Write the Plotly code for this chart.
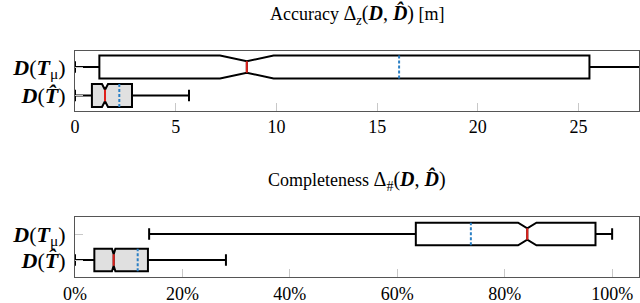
import plotly.graph_objects as go

# ---- data ----
row_labels = ["<b><i>D</i></b>(<b><i>T̂</i></b>)", "<b><i>D</i></b>(<b><i>T</i></b><sub>μ</sub>)"]
row_pos = [0, 1]

# Accuracy (m): order = [D(T^), D(T_mu)]
acc_lower = [0.0, 0.0]
acc_q1 = [0.84, 1.21]
acc_median = [1.49, 8.53]
acc_notch = [0.15, 1.33]
acc_mean = [2.20, 16.09]
acc_q3 = [2.83, 25.54]
acc_upper = [5.66, 29.5]

# Completeness (%)
com_lower = [0.0, 13.8]
com_q1 = [3.6, 63.45]
com_median = [7.2, 84.2]
com_notch = [0.32, 1.71]
com_mean = [11.67, 73.7]
com_q3 = [13.58, 96.9]
com_upper = [28.1, 100.0]

acc_ticks = [0, 5, 10, 15, 20, 25]
com_ticks = [0, 20, 40, 60, 80, 100]
com_ticktext = ["0%", "20%", "40%", "60%", "80%", "100%"]

fills = ["#e0e0e0", "#ffffff"]

SERIF = "Liberation Serif"
fig = go.Figure()


def add_panel(xa, ya, lower, q1, med, notch, mean, q3, upper, bw):
    for i in range(2):
        fig.add_trace(go.Box(
            y=[row_pos[i]], q1=[q1[i]], median=[med[i]], q3=[q3[i]],
            lowerfence=[lower[i]], upperfence=[upper[i]], notchspan=[notch[i]],
            notched=True, notchwidth=0.25, orientation="h", width=bw,
            fillcolor=fills[i], line=dict(color="black", width=2),
            whiskerwidth=0.5, boxpoints=False, showlegend=False,
            xaxis=xa, yaxis=ya, hoverinfo="skip"))
        # median (red), spans notched width
        h = bw / 2 * 0.5
        fig.add_trace(go.Scatter(
            x=[med[i], med[i]], y=[row_pos[i] - h, row_pos[i] + h], mode="lines",
            line=dict(color="#e0201b", width=2), showlegend=False,
            xaxis=xa, yaxis=ya, hoverinfo="skip"))
        # mean (blue dashed)
        h2 = bw / 2
        fig.add_trace(go.Scatter(
            x=[mean[i], mean[i]], y=[row_pos[i] - h2, row_pos[i] + h2], mode="lines",
            line=dict(color="#2a7fc4", width=2, dash="3px,2px"), showlegend=False,
            xaxis=xa, yaxis=ya, hoverinfo="skip"))


add_panel("x", "y", acc_lower, acc_q1, acc_median, acc_notch, acc_mean, acc_q3, acc_upper, 0.81)
add_panel("x2", "y2", com_lower, com_q1, com_median, com_notch, com_mean, com_q3, com_upper, 0.87)

xdom = [75 / 640, 639 / 640]
axis_common = dict(showline=True, mirror=True, linecolor="#555555", linewidth=1,
                   showgrid=False, zeroline=False, ticks="inside", ticklen=8,
                   tickcolor="#c8c8c8", tickwidth=1, automargin=False,
                   tickfont=dict(family=SERIF, size=18, color="black"))
ylab_font = dict(family=SERIF, size=22, color="black")

M = "<span style='font-size:20px'>"
title1 = ("Accuracy " + M + "Δ<sub><i>z</i></sub>(<b><i>D</i></b>, <b><i>D̂</i></b>)</span> [m]")
title2 = ("Completeness " + M + "Δ<sub>#</sub>(<b><i>D</i></b>, <b><i>D̂</i></b>)</span>")

fig.update_layout(
    width=640, height=303, margin=dict(l=0, r=0, t=0, b=0, pad=0),
    paper_bgcolor="white", plot_bgcolor="white",
    xaxis=dict(domain=xdom, range=[0, 28], tickvals=acc_ticks, anchor="y", **axis_common),
    yaxis=dict(domain=[1 - 110.5 / 303, 1 - 50.5 / 303], range=[-0.526, 1.58],
               tickvals=row_pos, ticktext=row_labels, anchor="x", ticklabelstandoff=4,
               **{**axis_common, "tickfont": ylab_font}),
    xaxis2=dict(domain=xdom, range=[0, 105], tickvals=com_ticks, ticktext=com_ticktext,
                anchor="y2", **axis_common),
    yaxis2=dict(domain=[1 - 277.3 / 303, 1 - 216.7 / 303], range=[-0.665, 1.665],
                tickvals=row_pos, ticktext=row_labels, anchor="x2", ticklabelstandoff=4,
                **{**axis_common, "tickfont": ylab_font}),
    annotations=[
        dict(text=title1,
             x=(xdom[0] + xdom[1]) / 2, y=1 - 14 / 303, xref="paper", yref="paper",
             xanchor="center", yanchor="middle",
             showarrow=False, font=dict(family=SERIF, size=18, color="black")),
        dict(text=title2,
             x=(xdom[0] + xdom[1]) / 2, y=1 - 180 / 303, xref="paper", yref="paper",
             xanchor="center", yanchor="middle",
             showarrow=False, font=dict(family=SERIF, size=18, color="black")),
    ],
)

fig.write_html("out.html", config={"displayModeBar": False},
               post_script="document.body.style.margin='0';document.body.style.overflow='hidden';")
